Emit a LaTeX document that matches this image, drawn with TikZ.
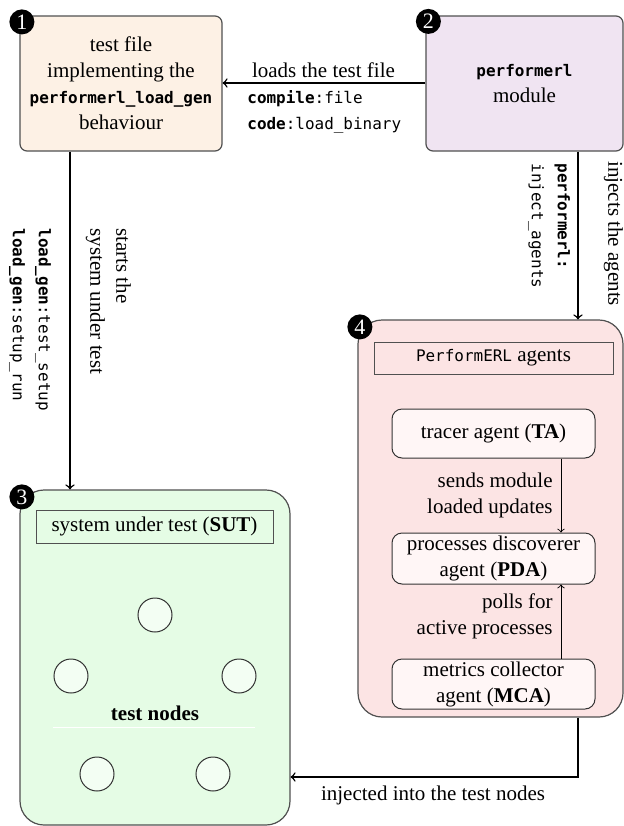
\documentclass[tikz,border=0pt]{standalone}
\usepackage{fontspec}
\setmainfont{Liberation Serif}
\setmonofont{DejaVu Sans Mono}[Scale=0.76]
\usetikzlibrary{calc}
\definecolor{cone}{RGB}{253,241,229}
\definecolor{ctwo}{RGB}{240,228,242}
\definecolor{cthree}{RGB}{229,252,229}
\definecolor{cfour}{RGB}{252,228,228}
\definecolor{cagent}{RGB}{255,246,246}
\definecolor{ctn}{RGB}{243,254,243}
\definecolor{bordergray}{RGB}{80,80,80}
\tikzset{
  bigbox/.style={draw=bordergray, line width=0.6pt, rounded corners=3.5pt, inner sep=0pt, align=center},
  panel/.style={draw=bordergray, line width=0.6pt, rounded corners=12pt, inner sep=0pt},
  titlebox/.style={draw=bordergray, line width=0.5pt, inner sep=0pt, align=center},
  agentbox/.style={draw=black!80, line width=0.5pt, rounded corners=5pt, fill=cagent, inner sep=0pt, align=center, minimum width=101.5pt},
  tnode/.style={circle, draw=black!80, line width=0.5pt, fill=ctn, minimum size=17pt, inner sep=0pt},
  numc/.style={circle, fill=black, text=white, minimum size=12.5pt, inner sep=0pt, font=\fontsize{11}{11}\selectfont},
  arr/.style={->, line width=0.75pt},
  sarr/.style={->, line width=0.45pt},
  lbl/.style={inner sep=0pt, align=left},
}
\begin{document}
\begin{tikzpicture}[x=0.5pt,y=0.5pt]
\fontsize{10.5}{13}\selectfont
\useasboundingbox (0,0) rectangle (624,-826);

% boxes
\node[bigbox, fill=cone, minimum width=101pt, minimum height=67.5pt] (b1) at (121,-83.5)
  {test file\\implementing the\\\textbf{\ttfamily performerl\_load\_gen}\\behaviour};
\node[bigbox, fill=ctwo, minimum width=98.5pt, minimum height=67.5pt] (b2) at (524.5,-83.5)
  {\textbf{\ttfamily performerl}\\module};
\node[panel, fill=cthree, minimum width=135pt, minimum height=167.5pt] (b3) at (155,-657.5) {};
\node[panel, fill=cfour, minimum width=132.5pt, minimum height=198.5pt] (b4) at (490.5,-518.5) {};

% number markers
\node[numc] (n1) at ($(b1.north west)+(2.5,-6.5)$) {1};
\node[numc] (n2) at ($(b2.north west)+(3,-6)$) {2};
\node[numc] (n3) at ($(b3.north west)+(2.5,-7.5)$) {3};
\node[numc] (n4) at ($(b4.north west)+(2.5,-7.5)$) {4};

% SUT contents
\node[titlebox, fill=cthree, minimum width=118.5pt, minimum height=16.5pt] (sut) at (154.5,-526.5)
  {system under test (\textbf{SUT})};
\node[tnode] (t1) at (155,-615) {};
\node[tnode] (t2) at (71,-676) {};
\node[tnode] (t3) at (239,-676) {};
\node[tnode] (t4) at (97,-774) {};
\node[tnode] (t5) at (213,-774) {};
\node[inner sep=0pt] (tn) at (155,-713) {\textbf{test nodes}};
\coordinate (tl1) at (53,-727);
\coordinate (tl2) at (255,-727);
\draw[white, line width=0.4pt] (tl1) -- (tl2);

% agents contents
\node[titlebox, fill=cfour, minimum width=119.5pt, minimum height=16pt] (pa) at (493.5,-358)
  {{\ttfamily PerformERL} agents};
\node[agentbox, minimum height=24.5pt] (ta) at (493.5,-433.5) {tracer agent (\textbf{TA})};
\node[agentbox, minimum height=25.5pt] (pda) at (493.5,-558.5) {processes discoverer\\agent (\textbf{PDA})};
\node[agentbox, minimum height=25pt] (mca) at (493.5,-684) {metrics collector\\agent (\textbf{MCA})};

\coordinate (ax) at (561,0);
\draw[sarr] (ta.south -| ax) -- (pda.north -| ax);
\draw[sarr] (mca.north -| ax) -- (pda.south -| ax);
\node[inner sep=0pt, align=right, anchor=east] (l1) at (553,-495) {sends module\\loaded updates};
\node[inner sep=0pt, align=right, anchor=east] (l2) at (553,-616.5) {polls for\\active processes};

% 2 -> 1
\coordinate (hy) at (0,-83);
\draw[arr] (b2.west |- hy) -- (b1.east |- hy);
\node[inner sep=0pt] (lt) at (323.5,-70) {loads the test file};
\node[lbl, anchor=west] (lc) at (247,-112) {\texttt{\textbf{compile}:file}\\\texttt{\textbf{code}:load\_binary}};

% 1 -> 3
\coordinate (vx) at (70,0);
\draw[arr] (b1.south -| vx) -- (b3.north -| vx);
\node[lbl, rotate=-90, anchor=west] (ls) at (108.5,-228) {starts the\\system under test};
\node[lbl, rotate=-90, anchor=west] (lg) at (30,-228) {\texttt{\textbf{load\_gen}:test\_setup}\\\texttt{\textbf{load\_gen}:setup\_run}};

% 2 -> 4
\coordinate (vx2) at (578,0);
\draw[arr] (b2.south -| vx2) -- (b4.north -| vx2);
\node[lbl, rotate=-90, anchor=west] (li) at (613.5,-161) {injects the agents};
\node[lbl, rotate=-90, anchor=west] (lp) at (549,-163) {\texttt{\textbf{performerl:}}\\\texttt{inject\_agents}};

% 4 -> 3
\coordinate (hy2) at (0,-777);
\draw[arr] (b4.south -| vx2) -- (vx2 |- hy2) -- (b3.east |- hy2);
\node[inner sep=0pt] (lj) at (433,-795) {injected into the test nodes};
\end{tikzpicture}
\end{document}
